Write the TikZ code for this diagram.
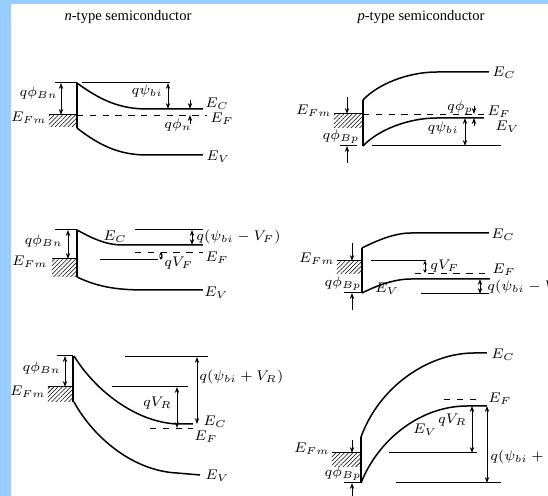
\documentclass[tikz,border=0pt]{standalone}
\usepackage{fontspec}
\setmainfont{Liberation Serif}
\usetikzlibrary{arrows.meta,patterns.meta}
\definecolor{frameblue}{RGB}{153,204,255}
\begin{document}
\begin{tikzpicture}[x=0.5pt,y=-0.5pt,
 band/.style={line width=0.75pt},
 iface/.style={line width=1pt},
 refl/.style={line width=0.5pt},
 fermi/.style={line width=0.45pt,dash pattern=on 3.2pt off 3.2pt},
 dim/.style={line width=0.45pt,{Stealth[length=3pt,width=2.2pt]}-{Stealth[length=3pt,width=2.2pt]}},
 sdim/.style={line width=0.45pt,{Stealth[length=1.8pt,width=1.8pt]}-{Stealth[length=1.8pt,width=1.8pt]}},
 tip/.style={line width=0.45pt,-{Stealth[length=3pt,width=2.2pt]}},
 hatch/.style={pattern={Lines[angle=45,distance=1.5pt,line width=0.3pt]}},
 lab/.style={font=\fontsize{6.8}{8}\selectfont,inner sep=0.5pt},
 ttl/.style={font=\fontsize{7.3}{9}\selectfont,inner sep=0pt}]
\useasboundingbox (0,0) rectangle (548,496);
\fill[white] (0,0) rectangle (548,496);
\fill[frameblue] (0,0) rectangle (548,4);
\fill[frameblue] (0,0) rectangle (11,496);

% titles
\node[ttl] (t1) at (128,17) {\textit{n}-type semiconductor};
\node[ttl] (t2) at (421,17) {\textit{p}-type semiconductor};

% ---------- Panel 1: n-type, equilibrium ----------
\fill[hatch] (49,115) rectangle (77,127);
\draw[refl] (49,115) -- (77,115);
\draw[refl] (55,83) -- (77,83);
\draw[refl] (82,83) -- (170,83);
\draw[band] (77,83) -- (77,128);
\draw[band] (77,83) .. controls (100,100) and (120,109) .. (147,109) -- (203,109);
\draw[band] (77,128) .. controls (100,146) and (120,155) .. (147,155) -- (203,155);
\draw[fermi] (77,115) -- (207,115);
\draw[dim] (61,83) -- (61,115);
\draw[dim] (168,83) -- (168,109);
\draw[tip] (190,100) -- (190,109);
\draw[tip] (190,124) -- (190,115);
\node[lab,anchor=east] (p1b) at (59,93) {$q\phi_{Bn}$};
\node[lab,anchor=east] (p1m) at (48,118) {$E_{Fm}$};
\node[lab,anchor=east] (p1p) at (164,91) {$q\psi_{bi}$};
\node[lab,anchor=west] (p1c) at (204,104) {$E_C$};
\node[lab,anchor=west] (p1f) at (209,119) {$E_F$};
\node[lab] (p1n) at (178,125) {$q\phi_n$};
\node[lab,anchor=west] (p1v) at (205,157) {$E_V$};

% ---------- Panel 2: p-type, equilibrium ----------
\fill[hatch] (334,114) rectangle (363,128);
\draw[refl] (334,114) -- (363,114);
\draw[iface] (363,100) -- (363,146);
\draw[band] (363,100) .. controls (378,84) and (408,72) .. (437,72) -- (489,72);
\draw[band] (363,146) .. controls (378,130) and (408,118) .. (437,118) -- (484,118);
\draw[fermi] (363,114) -- (484,114);
\draw[refl] (372,146) -- (501,146);
\draw[refl] (340,146) -- (357,146);
\draw[tip] (347,97) -- (347,114);
\draw[tip] (347,163) -- (347,146);
\draw[dim] (465,118) -- (465,146);
\draw[tip] (474,106) -- (474,114);
\draw[tip] (474,126) -- (474,118);
\node[lab,anchor=east] (p2m) at (333,111) {$E_{Fm}$};
\node[lab] (p2b) at (341,137) {$q\phi_{Bp}$};
\node[lab] (p2p) at (460,108) {$q\phi_p$};
\node[lab,anchor=west] (p2f) at (486,112) {$E_F$};
\node[lab,anchor=west] (p2v) at (494,127) {$E_V$};
\node[lab,anchor=east] (p2s) at (460,128) {$q\psi_{bi}$};
\node[lab,anchor=west] (p2c) at (491,73) {$E_C$};

% ---------- Panel 3: n-type, forward bias ----------
\fill[hatch] (52,259) rectangle (77,277);
\draw[refl] (52,259) -- (77,259);
\draw[refl] (55,230) -- (77,230);
\draw[band] (77,230) -- (77,277);
\draw[band] (77,230) .. controls (92,238) and (105,245) .. (123,245) -- (203,245);
\draw[band] (77,277) .. controls (100,288) and (120,290) .. (147,290) -- (203,290);
\draw[refl] (135,230) -- (203,230);
\draw[fermi] (135,252) -- (203,252);
\draw[refl] (100,260) -- (158,260);
\draw[dim] (68,230) -- (68,259);
\draw[dim] (192,230) -- (192,245);
\draw[sdim] (161,252) -- (161,260);
\node[lab,anchor=east] (p3b) at (64,241) {$q\phi_{Bn}$};
\node[lab,anchor=east] (p3m) at (49,262) {$E_{Fm}$};
\node[lab] (p3c) at (115,237) {$E_C$};
\node[lab,anchor=west] (p3d) at (195,237) {$q(\psi_{bi}-V_F)$};
\node[lab,anchor=west] (p3f) at (204,258) {$E_F$};
\node[lab,anchor=west] (p3q) at (163,263) {$qV_F$};
\node[lab,anchor=west] (p3v) at (203,293) {$E_V$};

% ---------- Panel 4: p-type, forward bias ----------
\fill[hatch] (337,261) rectangle (362,274);
\draw[refl] (337,261) -- (362,261);
\draw[iface] (362,248) -- (362,293);
\draw[band] (362,248) .. controls (378,240) and (395,233) .. (411,233) -- (489,233);
\draw[band] (362,293) .. controls (378,285) and (395,279) .. (411,279) -- (490,279);
\draw[refl] (371,261) -- (426,261);
\draw[fermi] (415,273) -- (490,273);
\draw[refl] (421,294) -- (489,294);
\draw[refl] (344,293) -- (362,293);
\draw[tip] (352,243) -- (352,261);
\draw[tip] (352,310) -- (352,293);
\draw[sdim] (425,261) -- (425,273);
\draw[dim] (480,279) -- (480,294);
\node[lab,anchor=west] (p4c) at (490,235) {$E_C$};
\node[lab,anchor=east] (p4m) at (336,259) {$E_{Fm}$};
\node[lab,anchor=west] (p4q) at (429,266) {$qV_F$};
\node[lab,anchor=west] (p4f) at (491,270) {$E_F$};
\node[lab,anchor=west] (p4d) at (486,287) {$q(\psi_{bi}-V_F)$};
\node[lab] (p4v) at (387,289) {$E_V$};
\node[lab] (p4b) at (343,284) {$q\phi_{Bp}$};

% ---------- Panel 5: n-type, reverse bias ----------
\fill[hatch] (48,387) rectangle (73,402);
\draw[refl] (48,387) -- (73,387);
\draw[refl] (57,356) -- (73,356);
\draw[band] (73,356) -- (73,402);
\draw[band] (74,356) .. controls (95,390) and (135,422) .. (177,424) -- (193,424);
\draw[band] (74,402) .. controls (95,440) and (135,471) .. (177,473) -- (200,475);
\draw[refl] (125,357) -- (208,357);
\draw[refl] (112,387) -- (188,387);
\draw[fermi] (150,428) -- (193,428);
\draw[dim] (65,356) -- (65,387);
\draw[dim] (197,357) -- (197,424);
\draw[dim] (177,387) -- (177,428);
\node[lab,anchor=east] (p5b) at (62,368) {$q\phi_{Bn}$};
\node[lab,anchor=east] (p5m) at (47,392) {$E_{Fm}$};
\node[lab,anchor=east] (p5q) at (173,403) {$qV_R$};
\node[lab,anchor=west] (p5d) at (198,377) {$q(\psi_{bi}+V_R)$};
\node[lab,anchor=west] (p5c) at (202,422) {$E_C$};
\node[lab,anchor=west] (p5f) at (193,437) {$E_F$};
\node[lab,anchor=west] (p5v) at (204,476) {$E_V$};

% ---------- Panel 6: p-type, reverse bias ----------
\fill[hatch] (332,453) rectangle (361,467);
\draw[refl] (332,453) -- (361,453);
\draw[iface] (361,437) -- (361,483);
\draw[band] (361,437) .. controls (380,385) and (430,353) .. (474,353) -- (487,353);
\draw[band] (361,483) .. controls (378,440) and (420,406) .. (467,406) -- (487,406);
\draw[fermi] (444,399) -- (481,399);
\draw[refl] (389,453) -- (477,453);
\draw[refl] (396,483) -- (501,483);
\draw[refl] (344,483) -- (361,483);
\draw[tip] (352,440) -- (352,453);
\draw[tip] (352,498) -- (352,483);
\draw[dim] (472,406) -- (472,453);
\draw[dim] (487,406) -- (487,483);
\node[lab,anchor=west] (p6c) at (490,355) {$E_C$};
\node[lab,anchor=west] (p6f) at (487,399) {$E_F$};
\node[lab,anchor=east] (p6q) at (468,420) {$qV_R$};
\node[lab] (p6v) at (425,430) {$E_V$};
\node[lab,anchor=west] (p6d) at (489,457) {$q(\psi_{bi}+V_R)$};
\node[lab,anchor=east] (p6m) at (331,449) {$E_{Fm}$};
\node[lab] (p6b) at (343,474) {$q\phi_{Bp}$};
\end{tikzpicture}
\end{document}
